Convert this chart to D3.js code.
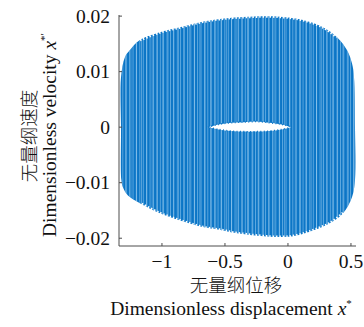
<!DOCTYPE html>
<html>
<head>
<meta charset="utf-8">
<script src="https://cdn.jsdelivr.net/npm/d3@7"></script>
<style>
  body { margin: 0; background: #fff; }
  .tick-label { font-family: 'Liberation Serif', 'Times New Roman', serif; font-size: 19.5px; fill: #111; }
  .axis-title { font-family: 'Liberation Serif', 'Times New Roman', serif; font-size: 19.5px; fill: #111; }
  .axis-title-cn { font-family: 'Noto Sans CJK SC', sans-serif; font-weight: 300; font-size: 18.5px; fill: #111; }
</style>
</head>
<body>
<div id="wrapper"></div>
<script>
// envelope of the phase trajectory
const upperX = [-1.325, -1.294, -1.254, -1.175, -1.016, -0.857, -0.698, -0.540, -0.302, -0.063, 0.119, 0.278, 0.389, 0.468, 0.508, 0.524, 0.532];
const upperY = [0.0090, 0.0126, 0.0139, 0.0157, 0.0171, 0.0180, 0.0189, 0.0195, 0.0199, 0.0199, 0.0193, 0.0180, 0.0162, 0.0139, 0.0115, 0.0090, 0.0000];
const lowerX = [0.532, 0.508, 0.437, 0.333, 0.198, 0.071, -0.063, -0.405, -0.516, -0.675, -0.857, -1.016, -1.175, -1.270, -1.310, -1.322, -1.325];
const lowerY = [-0.0095, -0.0126, -0.0155, -0.0173, -0.0186, -0.0195, -0.0198, -0.0191, -0.0186, -0.0180, -0.0168, -0.0155, -0.0137, -0.0123, -0.0108, -0.0095, 0.0000];
// white gap around the origin line
const holeX = [-0.635, -0.55, -0.45, -0.35, -0.25, -0.15, -0.05, 0.03];
const holeUpper = [0.0000, 0.0005, 0.0008, 0.0009, 0.0010, 0.0008, 0.0005, 0.0000];
const holeLower = [0.0000, -0.0004, -0.0007, -0.0008, -0.0008, -0.0007, -0.0004, 0.0000];

const xTicks = [-1, -0.5, 0, 0.5];
const yTicks = [-0.02, -0.01, 0, 0.01, 0.02];

function drawChart() {
  const dimensions = {
    width: 364,
    height: 327,
    margin: { top: 15, right: 8, bottom: 81, left: 119 },
  };
  dimensions.boundedWidth = dimensions.width - dimensions.margin.left - dimensions.margin.right;
  dimensions.boundedHeight = dimensions.height - dimensions.margin.top - dimensions.margin.bottom;

  const svg = d3.select('#wrapper').append('svg')
    .attr('width', dimensions.width)
    .attr('height', dimensions.height);

  const bounds = svg.append('g')
    .attr('transform', `translate(${dimensions.margin.left},${dimensions.margin.top})`);

  const xScale = d3.scaleLinear().domain([-1.341, 0.54]).range([0, dimensions.boundedWidth]);
  const yScale = d3.scaleLinear().domain([-0.0214, 0.0202]).range([dimensions.boundedHeight, 0]);

  // stripes to mimic the dense vertical sweeps
  const defs = svg.append('defs');
  const p1 = defs.append('pattern').attr('id', 'stripes-a')
    .attr('patternUnits', 'userSpaceOnUse').attr('width', 3.4).attr('height', 10);
  p1.append('rect').attr('x', 0).attr('width', 0.9).attr('height', 10).attr('fill', '#9fd2f5');
  const p2 = defs.append('pattern').attr('id', 'stripes-b')
    .attr('patternUnits', 'userSpaceOnUse').attr('width', 5.3).attr('height', 10);
  p2.append('rect').attr('x', 1).attr('width', 0.8).attr('height', 10).attr('fill', '#d2ebfb');

  const outline = upperX.map((x, i) => [x, upperY[i]])
    .concat(lowerX.map((x, i) => [x, lowerY[i]]));

  const line = d3.line()
    .x((d) => xScale(d[0]))
    .y((d) => yScale(d[1]))
    .curve(d3.curveCatmullRomClosed);

  const plot = bounds.append('g');
  plot.append('path').attr('d', line(outline)).attr('fill', '#0b75c6');
  plot.append('path').attr('d', line(outline)).attr('fill', 'url(#stripes-a)').attr('opacity', 0.6);
  plot.append('path').attr('d', line(outline)).attr('fill', 'url(#stripes-b)').attr('opacity', 0.45);

  // ragged top and bottom edges
  const openLine = d3.line()
    .x((d) => xScale(d[0]))
    .y((d) => yScale(d[1]))
    .curve(d3.curveCatmullRom);
  const topEdge = upperX.map((x, i) => [x, upperY[i]]).slice(3, 13);
  const bottomEdge = lowerX.map((x, i) => [x, lowerY[i]]).slice(2, 13);
  [topEdge, bottomEdge].forEach((edge) => {
    plot.append('path').attr('d', openLine(edge))
      .attr('fill', 'none').attr('stroke', '#fff')
      .attr('stroke-width', 3).attr('stroke-dasharray', '1.4 2');
  });

  const hole = d3.area()
    .x((d, i) => xScale(holeX[i]))
    .y0((d, i) => yScale(holeLower[i]))
    .y1((d, i) => yScale(holeUpper[i]))
    .curve(d3.curveCatmullRom);
  plot.append('path').attr('d', hole(holeX)).attr('fill', '#fff');
  plot.append('path').attr('d', hole(holeX)).attr('fill', 'none')
    .attr('stroke', '#0b75c6').attr('stroke-width', 1.5).attr('stroke-dasharray', '1 2.4');

  // axes
  const axisColor = '#4d4d4d';
  bounds.append('line')
    .attr('x1', 0).attr('x2', 0).attr('y1', 0).attr('y2', dimensions.boundedHeight)
    .attr('stroke', axisColor).attr('stroke-width', 1);
  bounds.append('line')
    .attr('x1', 0).attr('x2', dimensions.boundedWidth)
    .attr('y1', dimensions.boundedHeight).attr('y2', dimensions.boundedHeight)
    .attr('stroke', axisColor).attr('stroke-width', 1);

  const fmt = (d) => (d < 0 ? '\u2212' : '') + String(Math.abs(d));

  yTicks.forEach((d) => {
    bounds.append('line')
      .attr('x1', 0).attr('x2', 3)
      .attr('y1', yScale(d)).attr('y2', yScale(d))
      .attr('stroke', axisColor);
    bounds.append('text')
      .attr('class', 'tick-label')
      .attr('x', -9).attr('y', yScale(d))
      .attr('dy', '0.34em')
      .attr('text-anchor', 'end')
      .text(fmt(d));
  });

  xTicks.forEach((d) => {
    bounds.append('line')
      .attr('x1', xScale(d)).attr('x2', xScale(d))
      .attr('y1', dimensions.boundedHeight).attr('y2', dimensions.boundedHeight - 3)
      .attr('stroke', axisColor);
    bounds.append('text')
      .attr('class', 'tick-label')
      .attr('x', xScale(d)).attr('y', dimensions.boundedHeight + 22)
      .attr('text-anchor', 'middle')
      .text(fmt(d));
  });

  // axis titles
  svg.append('text').attr('class', 'axis-title-cn')
    .attr('x', 236).attr('y', 292)
    .attr('text-anchor', 'middle')
    .text('无量纲位移');
  const xTitle = svg.append('text').attr('class', 'axis-title')
    .attr('x', 231).attr('y', 315)
    .attr('text-anchor', 'middle');
  xTitle.append('tspan').text('Dimensionless displacement ');
  xTitle.append('tspan').attr('font-style', 'italic').text('x');
  xTitle.append('tspan').attr('font-size', '11px').attr('dy', '-8').text('*');

  svg.append('text').attr('class', 'axis-title-cn')
    .attr('transform', 'translate(36,136) rotate(-90)')
    .attr('text-anchor', 'middle')
    .text('无量纲速度');
  const yTitle = svg.append('text').attr('class', 'axis-title')
    .attr('transform', 'translate(56,135) rotate(-90)')
    .attr('text-anchor', 'middle');
  yTitle.append('tspan').text('Dimensionless velocity ');
  yTitle.append('tspan').attr('font-style', 'italic').text('x');
  yTitle.append('tspan').attr('font-size', '11px').attr('dy', '-8').text('*\u2032');
}
drawChart();
</script>
</body>
</html>
